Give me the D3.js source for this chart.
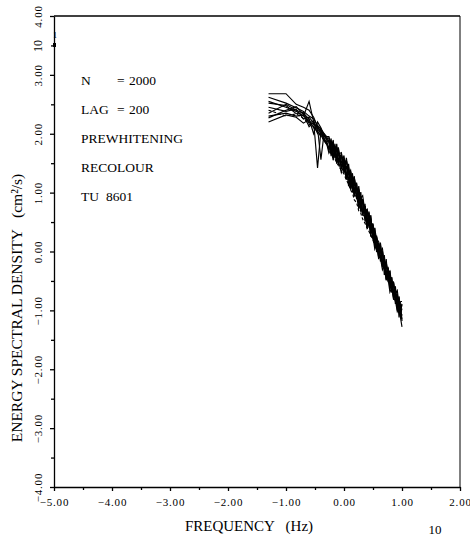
<!DOCTYPE html>
<meta charset="utf-8">
<style>
body { margin: 0; background: #fff; }
svg { display: block; }
.axis path, .axis line { stroke: #000; stroke-width: 1.3; }
.axis text { font-family: "Liberation Serif", serif; font-size: 11px; letter-spacing: 0.8px; fill: #000; }
.note { font-family: "Liberation Serif", serif; font-size: 13.5px; fill: #000; }
.title { font-family: "Liberation Serif", serif; font-size: 15px; fill: #000; }
.curves path { fill: none; stroke: #000; stroke-width: 1.15; stroke-linejoin: miter; }
</style>
<svg id="chart" width="470" height="538"></svg>
<script src="https://d3js.org/d3.v7.min.js"></script>
<script>
// log10 of frequency (Hz), k * 0.05 Hz
var freqLog = [-1.301, -1.000, -0.824, -0.699, -0.602, -0.523, -0.456, -0.398, -0.347, -0.301,
               -0.260, -0.222, -0.187, -0.155, -0.125, -0.097, -0.046, 0.000, 0.041, 0.079,
               0.114, 0.146, 0.176, 0.217, 0.255, 0.290, 0.322, 0.362, 0.398, 0.431,
               0.462, 0.498, 0.531, 0.562, 0.597, 0.628, 0.663, 0.695, 0.728, 0.760,
               0.792, 0.823, 0.854, 0.886, 0.919, 0.949, 0.978, 1.000];

// log10 of energy spectral density, one array per run
var curveA = [2.68, 2.68, 2.50, 2.45, 2.40, 2.28, 2.12, 2.05, 2.00, 1.92,
              1.93, 1.70, 1.89, 1.65, 1.77, 1.51, 1.62, 1.35, 1.59, 1.31, 1.38, 1.07, 1.28, 0.95, 1.05, 0.69, 0.87, 0.71, 0.46, 0.66,
              0.34, 0.44, 0.10, 0.25, 0.01, 0.15, -0.23, -0.14, -0.47, -0.28, -0.55, -0.44, -0.78, -0.65, -0.92, -0.76, -1.03, -0.89];
var curveB = [2.55, 2.45, 2.38, 2.30, 2.55, 2.20, 1.42, 2.05, 1.90, 1.85,
              1.75, 1.92, 1.61, 1.75, 1.49, 1.71, 1.50, 1.63, 1.29, 1.39, 1.06, 1.29, 1.04, 1.15, 0.81, 0.89, 0.61, 0.77, 0.50, 0.68,
              0.32, 0.38, 0.10, 0.27, -0.03, 0.13, -0.25, -0.16, -0.49, -0.30, -0.55, -0.44, -0.76, -0.67, -1.00, -0.82, -1.11, -1.13];
var curveC = [2.35, 2.50, 2.40, 2.35, 2.25, 2.00, 2.20, 2.10, 1.98, 1.95,
              1.87, 1.62, 1.83, 1.59, 1.83, 1.55, 1.66, 1.33, 1.45, 1.11, 1.34, 1.09, 1.26, 0.89, 1.01, 0.67, 0.89, 0.61, 0.72, 0.40,
              0.62, 0.20, 0.32, -0.01, 0.15, -0.11, 0.01, -0.40, -0.21, -0.52, -0.33, -0.66, -0.54, -0.89, -0.78, -1.12, -0.91, -1.18];
var curveD = [2.45, 2.38, 2.42, 2.25, 2.28, 2.18, 2.10, 1.56, 1.98, 1.90,
              1.71, 1.86, 1.69, 1.83, 1.55, 1.77, 1.40, 1.53, 1.27, 1.49, 1.16, 1.27, 0.94, 1.09, 0.89, 1.01, 0.63, 0.77, 0.48, 0.56,
              0.26, 0.46, 0.18, 0.25, -0.13, 0.05, -0.23, -0.06, -0.39, -0.28, -0.63, -0.48, -0.72, -0.59, -0.96, -0.84, -1.09, -1.15];
var curveE = [2.30, 2.35, 2.30, 2.32, 2.18, 2.22, 2.05, 2.08, 1.96, 1.92,
              1.85, 1.66, 1.81, 1.61, 1.77, 1.47, 1.64, 1.41, 1.55, 1.21, 1.36, 1.01, 1.18, 0.91, 1.11, 0.77, 0.87, 0.51, 0.70, 0.44,
              0.56, 0.22, 0.40, 0.03, 0.11, -0.17, -0.01, -0.30, -0.13, -0.50, -0.41, -0.70, -0.52, -0.85, -0.72, -0.98, -0.89, -0.93];
var curveF = [2.52, 2.48, 2.34, 2.36, 2.20, 2.16, 2.12, 2.00, 1.93, 1.86,
              1.89, 1.74, 1.59, 1.79, 1.59, 1.75, 1.42, 1.55, 1.25, 1.43, 1.18, 1.27, 1.00, 1.17, 0.85, 0.91, 0.65, 0.81, 0.48, 0.58,
              0.38, 0.44, 0.10, 0.23, -0.05, 0.11, -0.19, -0.12, -0.43, -0.32, -0.65, -0.52, -0.74, -0.63, -0.94, -0.78, -1.05, -0.97];
var curveG = [2.20, 2.32, 2.28, 2.18, 2.24, 2.10, 2.04, 1.98, 1.88, 1.82,
              1.77, 1.88, 1.61, 1.73, 1.51, 1.69, 1.44, 1.59, 1.23, 1.37, 1.12, 1.33, 1.00, 1.07, 0.73, 0.93, 0.65, 0.77, 0.40, 0.56,
              0.32, 0.48, 0.12, 0.19, -0.11, 0.07, -0.27, -0.16, -0.41, -0.26, -0.61, -0.50, -0.82, -0.69, -0.96, -0.82, -1.13, -1.07];
var curveH = [2.62, 2.52, 2.44, 2.38, 2.30, 2.25, 2.14, 2.08, 2.01, 1.95,
              1.95, 1.80, 1.87, 1.67, 1.75, 1.65, 1.68, 1.47, 1.55, 1.33, 1.36, 1.17, 1.26, 1.03, 1.05, 0.91, 0.95, 0.67, 0.72, 0.54,
              0.58, 0.30, 0.38, 0.21, 0.17, -0.01, 0.05, -0.22, -0.19, -0.36, -0.33, -0.56, -0.52, -0.71, -0.66, -0.92, -0.85, -0.85];
var curveI = [2.27, 2.40, 2.46, 2.33, 2.12, 2.20, 2.00, 2.06, 1.92, 1.84,
              1.67, 1.74, 1.55, 1.67, 1.51, 1.55, 1.34, 1.47, 1.23, 1.23, 1.06, 1.15, 0.94, 0.95, 0.73, 0.81, 0.63, 0.59, 0.40, 0.48,
              0.26, 0.26, 0.04, 0.11, -0.09, -0.11, -0.31, -0.24, -0.47, -0.46, -0.69, -0.62, -0.80, -0.83, -1.02, -0.96, -1.15, -1.28];
var curveJ = [2.40, 2.30, 2.34, 2.26, 2.16, 2.12, 2.02, 1.96, 1.90, 1.83,
              1.75, 1.68, 1.61, 1.57, 1.51, 1.46, 1.38, 1.32, 1.21, 1.15, 1.04, 1.00, 0.88, 0.83, 0.69, 0.65, 0.55, 0.48, 0.40, 0.34,
              0.28, 0.19, 0.12, 0.05, -0.05, -0.11, -0.20, -0.28, -0.37, -0.45, -0.53, -0.63, -0.69, -0.79, -0.87, -0.96, -1.04, -1.08];

var curves = [curveA, curveB, curveC, curveD, curveE, curveF, curveG, curveH, curveI, curveJ];
var dashedCurve = 9;

var xMajor = [-5, -4, -3, -2, -1, 0, 1, 2];
var xMinor = [-4.5, -3.5, -2.5, -1.5, -0.5, 0.5, 1.5];
var yMajor = [-4, -3, -2, -1, 0, 1, 2, 3, 4];
var yMinor = [-3.5, -2.5, -1.5, -0.5, 0.5, 1.5, 2.5, 3.5];

var notes = [["N", "=", "2000"], ["LAG", "=", "200"], ["PREWHITENING"], ["RECOLOUR"], ["TU", "8601"]];

var svg = d3.select("#chart");
var plotLeft = 54, plotRight = 460, plotTop = 16, plotBottom = 487;

var x = d3.scaleLinear().domain([-5, 2]).range([plotLeft, plotRight]);
var y = d3.scaleLinear().domain([-4, 4]).range([plotBottom, plotTop]);

function fmt(d) {
  return (d < 0 ? "\u2212" : "") + Math.abs(d).toFixed(2);
}

// frame
svg.append("line").attr("x1", plotLeft).attr("x2", plotRight).attr("y1", plotTop).attr("y2", plotTop)
  .attr("stroke", "#000").attr("stroke-width", 1.3);
svg.append("line").attr("x1", plotRight).attr("x2", plotRight).attr("y1", plotTop).attr("y2", plotBottom)
  .attr("stroke", "#000").attr("stroke-width", 1);

// x axis
var gx = svg.append("g").attr("class", "axis").attr("transform", "translate(0," + plotBottom + ")");
gx.call(d3.axisBottom(x).tickValues(xMajor).tickSize(4).tickSizeOuter(0).tickFormat(fmt));
gx.selectAll("text").attr("dy", "1.05em");
svg.append("g").attr("class", "axis").attr("transform", "translate(0," + plotBottom + ")")
  .call(d3.axisBottom(x).tickValues(xMinor).tickSize(3).tickSizeOuter(0).tickFormat(""))
  .select(".domain").remove();

// y axis
var gy = svg.append("g").attr("class", "axis").attr("transform", "translate(" + plotLeft + ",0)");
gy.call(d3.axisLeft(y).tickValues(yMajor).tickSize(4).tickSizeOuter(0).tickFormat(fmt));
gy.selectAll("text")
  .attr("x", null).attr("dy", null)
  .attr("text-anchor", "middle")
  .attr("transform", "translate(-12,0) rotate(-90)");
svg.append("g").attr("class", "axis").attr("transform", "translate(" + plotLeft + ",0)")
  .call(d3.axisLeft(y).tickValues(yMinor).tickSize(3).tickSizeOuter(0).tickFormat(""))
  .select(".domain").remove();

// multiplier marks near the top of the y axis
svg.append("text")
  .attr("transform", "translate(42,46) rotate(-90)")
  .attr("text-anchor", "middle")
  .style("font-family", "Liberation Serif, serif").style("font-size", "12px")
  .text("10");
svg.append("text")
  .attr("x", 55).attr("y", 38).attr("text-anchor", "middle")
  .style("font-family", "Liberation Serif, serif").style("font-size", "8px")
  .text("1");
svg.append("rect").attr("x", 53).attr("y", 43).attr("width", 3).attr("height", 4).attr("fill", "#000");

// curves
var line = d3.line()
  .x(function(d, i) { return x(freqLog[i]); })
  .y(function(d) { return y(d); });

svg.append("g").attr("class", "curves")
  .selectAll("path")
  .data(curves)
  .enter().append("path")
  .attr("d", line)
  .attr("stroke-dasharray", function(d, i) { return i === dashedCurve ? "3,2" : null; });

// annotations
var noteG = svg.append("g");
notes.forEach(function(n, i) {
  var yy = 85 + i * 29;
  if (n.length === 3) {
    noteG.append("text").attr("class", "note").attr("x", 81).attr("y", yy).text(n[0]);
    noteG.append("text").attr("class", "note").attr("x", 117).attr("y", yy).text(n[1]);
    noteG.append("text").attr("class", "note").attr("x", 129).attr("y", yy).text(n[2]);
  } else if (n.length === 2) {
    noteG.append("text").attr("class", "note").attr("x", 81).attr("y", yy).text(n[0]);
    noteG.append("text").attr("class", "note").attr("x", 106).attr("y", yy).text(n[1]);
  } else {
    noteG.append("text").attr("class", "note").attr("x", 81).attr("y", yy).text(n[0]);
  }
});

// axis titles
svg.append("text").attr("class", "title")
  .attr("x", 249).attr("y", 531).attr("text-anchor", "middle")
  .attr("xml:space", "preserve")
  .text("FREQUENCY   (Hz)");
svg.append("text").attr("class", "title")
  .attr("x", 435).attr("y", 534).attr("text-anchor", "middle")
  .style("font-size", "13px")
  .text("10");
svg.append("text").attr("class", "title")
  .attr("transform", "translate(22,308) rotate(-90)")
  .attr("text-anchor", "middle")
  .attr("xml:space", "preserve")
  .style("font-size", "15.5px")
  .text("ENERGY SPECTRAL DENSITY   (cm\u00B2/s)");
</script>
